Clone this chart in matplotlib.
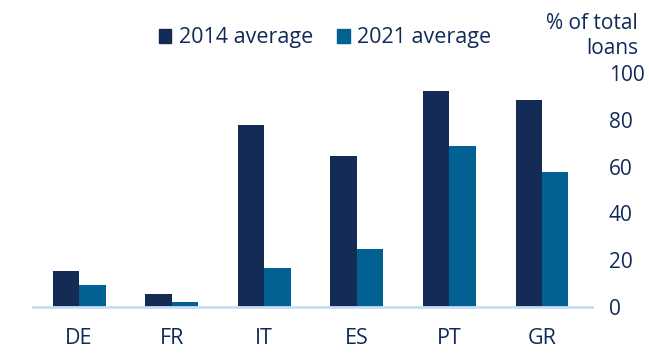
import matplotlib
matplotlib.use("Agg")
import matplotlib.pyplot as plt
from matplotlib.patches import Patch
import numpy as np

plt.rcParams['font.family'] = ['Open Sans', 'DejaVu Sans']
plt.rcParams['font.weight'] = 'medium'

countries = ["DE", "FR", "IT", "ES", "PT", "GR"]
avg_2014 = [15.4, 5.6, 77.8, 64.5, 92.3, 88.5]
avg_2021 = [9.4, 2.1, 16.7, 24.8, 68.8, 57.7]
series_names = ["2014 average", "2021 average"]
yticks = [0, 20, 40, 60, 80, 100]

navy = "#132b55"
teal = "#006192"
txt = "#122a5a"
axis_blue = "#c6ddf6"

W, H = 649, 354
fig = plt.figure(figsize=(W / 100, H / 100), dpi=100)
ax = fig.add_axes([33 / W, 47 / H, 559 / W, 234 / H])

x = np.arange(len(countries))
w = 0.286
ax.bar(x - w / 2, avg_2014, width=w, color=navy, label=series_names[0])
ax.bar(x + w / 2, avg_2021, width=w, color=teal, label=series_names[1])

ax.set_xlim(-0.497, 5.54)
ax.set_ylim(0, 100)
ax.set_xticks(x)
ax.set_xticklabels(countries)
ax.set_yticks(yticks)
ax.yaxis.tick_right()
ax.tick_params(axis='y', length=0, pad=12, labelsize=15, labelcolor=txt)
ax.tick_params(axis='x', length=0, pad=15, labelsize=15.5, labelcolor=txt)
for s in ["top", "left", "right"]:
    ax.spines[s].set_visible(False)
ax.spines["bottom"].set_color(axis_blue)
ax.spines["bottom"].set_linewidth(2)

handles = [Patch(color=navy), Patch(color=teal)]
fig.legend(handles, series_names, loc="center", bbox_to_anchor=(325 / W, 1 - 38 / H),
           ncol=2, frameon=False, fontsize=15.5, handlelength=0.6, handleheight=0.6,
           handletextpad=0.35, columnspacing=1.1, labelcolor=txt)

fig.text(638 / W, 1 - 36 / H, "% of total\nloans", ha="right", va="center",
         fontsize=15, color=txt, linespacing=1.3)

fig.savefig("out.png", dpi=100)
